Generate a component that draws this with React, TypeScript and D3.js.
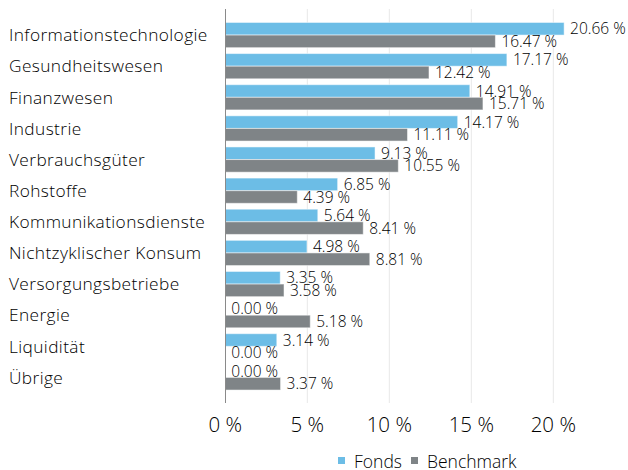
import React from 'react';
import * as d3 from 'd3';

const categories = [
  'Informationstechnologie',
  'Gesundheitswesen',
  'Finanzwesen',
  'Industrie',
  'Verbrauchsgüter',
  'Rohstoffe',
  'Kommunikationsdienste',
  'Nichtzyklischer Konsum',
  'Versorgungsbetriebe',
  'Energie',
  'Liquidität',
  'Übrige',
];
const fonds = [20.66, 17.17, 14.91, 14.17, 9.13, 6.85, 5.64, 4.98, 3.35, 0.0, 3.14, 0.0];
const benchmark = [16.47, 12.42, 15.71, 11.11, 10.55, 4.39, 8.41, 8.81, 3.58, 5.18, 0.0, 3.37];
const ticks = [0, 5, 10, 15, 20];
const seriesNames = ['Fonds', 'Benchmark'];
const colors = ['#6cbde6', '#7f8487'];

const W = 628;
const H = 470;
const FONT = '"Open Sans", sans-serif';

const fmt = (v: number) => `${v.toFixed(2)} %`;

export default function App() {
  const x = d3.scaleLinear().domain([0, 20]).range([225.3, 553.3]);
  const y = d3.scaleBand<string>().domain(categories).range([19.5, 393]).paddingInner(0.19).paddingOuter(0.095);
  const inner = d3.scaleBand<string>().domain(seriesNames).range([0, y.bandwidth()]);
  const series = [fonds, benchmark];

  return (
    <svg width={W} height={H} style={{ position: 'absolute', left: 0, top: 0 }} fontFamily={FONT} fontWeight={300}>
      {ticks.slice(1).map((t) => (
        <line key={t} x1={x(t)} x2={x(t)} y1={9} y2={403} stroke="#e8e8e8" strokeWidth={1} />
      ))}
      {categories.map((c, i) => (
        <g key={c}>
          <text x={9} y={(y(c) ?? 0) + y.bandwidth() / 2} dy="0.36em" fontSize={17.3} letterSpacing={0.4} fill="#000">
            {c}
          </text>
          {series.map((s, k) => {
            const by = (y(c) ?? 0) + (inner(seriesNames[k]) ?? 0);
            const bh = inner.bandwidth();
            return (
              <g key={k}>
                <rect
                  x={x(0)}
                  y={by}
                  width={Math.max(0, x(s[i]) - x(0))}
                  height={bh}
                  fill={colors[k]}
                  stroke="#ffffff"
                  strokeOpacity={0.5}
                  strokeWidth={1}
                />
                <text x={x(s[i]) + 6} y={by + bh / 2} dy="0.36em" fontSize={15.5} fill="#000">
                  {fmt(s[i])}
                </text>
              </g>
            );
          })}
        </g>
      ))}
      <line x1={225.5} x2={225.5} y1={9} y2={403} stroke="#8a8a8a" strokeWidth={1} />
      {ticks.map((t) => (
        <text key={t} x={x(t)} y={431.5} textAnchor="middle" fontSize={20.5} fill="#000">
          {`${t} %`}
        </text>
      ))}
      <g>
        <rect x={338} y={457} width={7} height={7} fill={colors[0]} />
        <text x={354} y={467.5} fontSize={17.5} fill="#000">{seriesNames[0]}</text>
        <rect x={411} y={457} width={7} height={7} fill={colors[1]} />
        <text x={427} y={467.5} fontSize={17.5} fill="#000">{seriesNames[1]}</text>
      </g>
    </svg>
  );
}
